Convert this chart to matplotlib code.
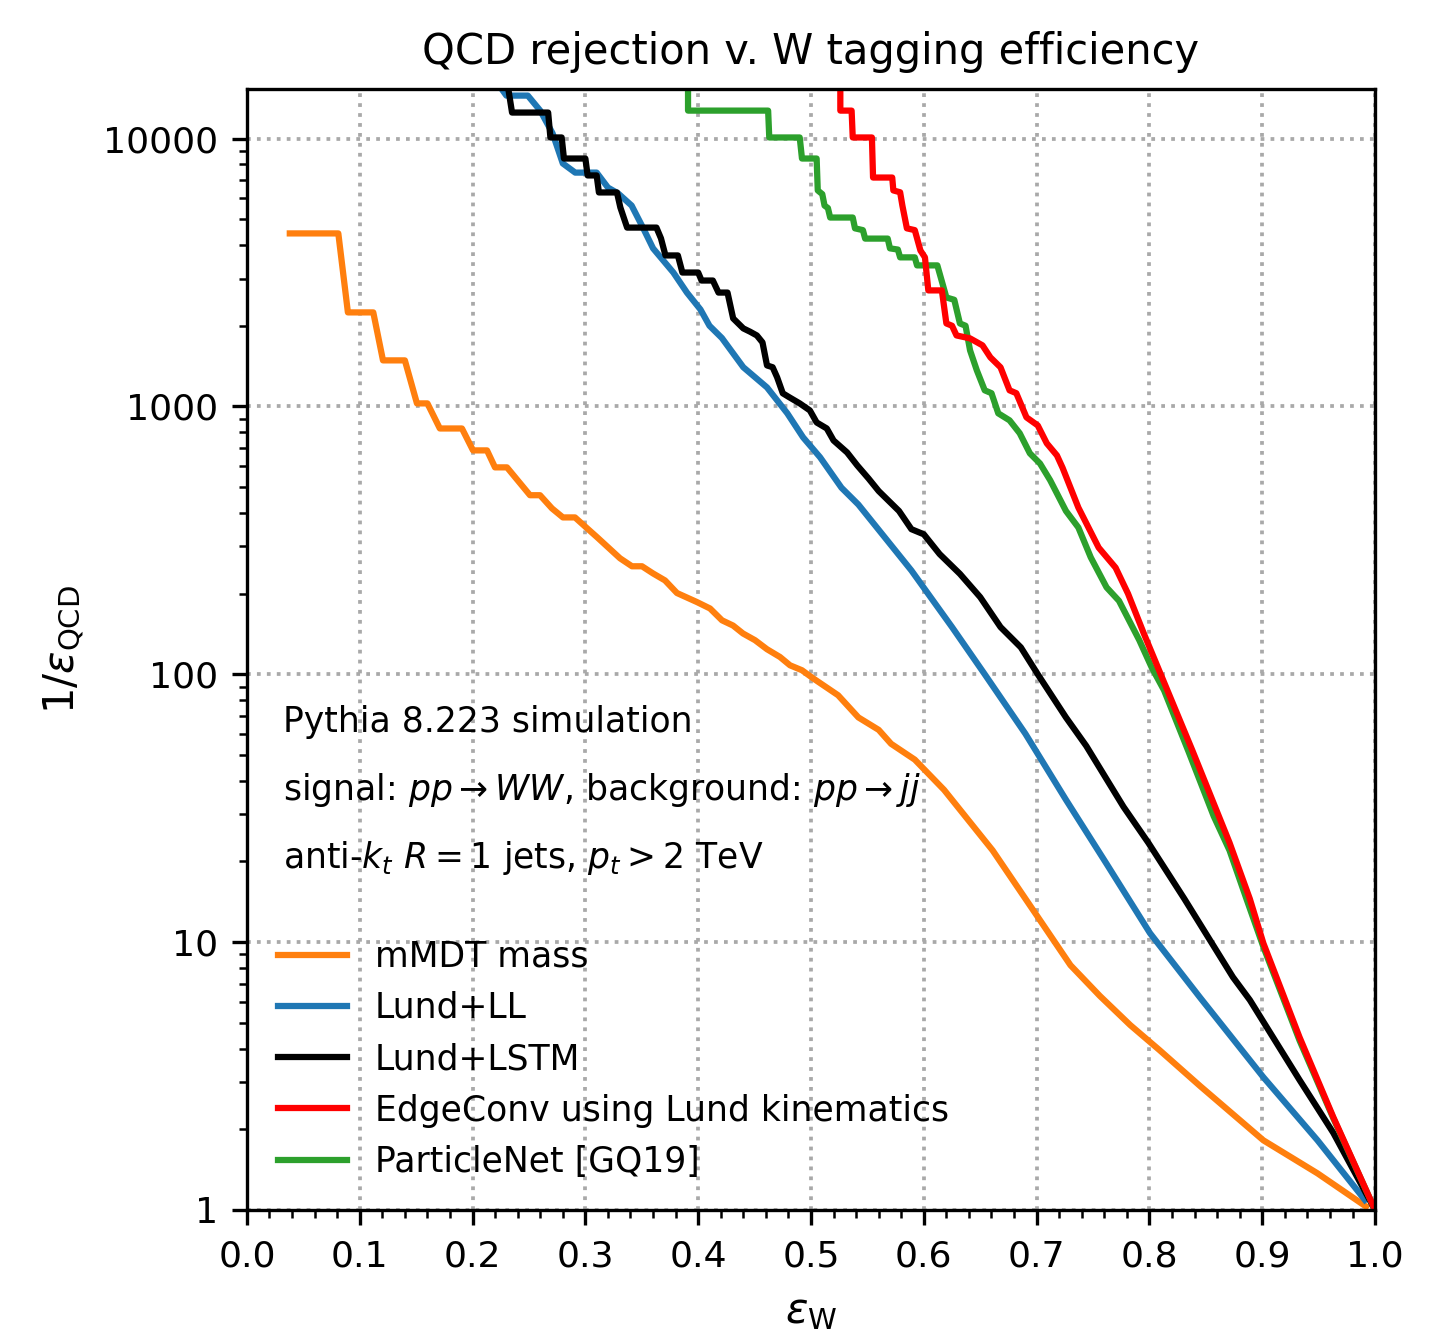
import numpy as np
import matplotlib
matplotlib.use("Agg")
import matplotlib.pyplot as plt
from matplotlib.ticker import MultipleLocator, LogLocator, FuncFormatter, NullFormatter

# ROC points: signal efficiency and inverse background efficiency
mmdt_eff = [0.038, 0.081, 0.0895, 0.112, 0.1206, 0.140, 0.1507, 0.160, 0.171, 0.1906,
            0.2004, 0.2128, 0.2199, 0.2305, 0.2509, 0.2598, 0.2704, 0.2801, 0.2908, 0.3014,
            0.3103, 0.3307, 0.3413, 0.3502, 0.3599, 0.3706, 0.3812, 0.3989, 0.4105, 0.4211,
            0.4309, 0.4397, 0.4504, 0.4610, 0.4725, 0.4814, 0.4920, 0.5018, 0.524, 0.542,
            0.560, 0.571, 0.592, 0.618, 0.639, 0.661, 0.700, 0.730, 0.756, 0.783,
            0.809, 0.845, 0.901, 0.949, 0.992]
mmdt_rej = [4423, 4423, 2243, 2243, 1485, 1485, 1026, 1026, 827, 827,
            685, 685, 592, 592, 466, 466, 416, 385, 385, 351,
            325, 271, 253, 253, 238, 224, 201, 186, 176, 159,
            152, 142, 134, 124, 116, 108, 103.5, 96.6, 83.5, 69,
            62, 55, 48, 37, 28.7, 22, 12.6, 8.2, 6.3, 4.9,
            3.95, 2.9, 1.82, 1.37, 1.03]

ll_eff = [0.218, 0.230, 0.249, 0.260, 0.271, 0.280, 0.291, 0.310, 0.320, 0.329,
          0.341, 0.351, 0.360, 0.378, 0.390, 0.402, 0.410, 0.421, 0.440, 0.461,
          0.479, 0.493, 0.508, 0.527, 0.542, 0.589, 0.625, 0.654, 0.690, 0.726,
          0.762, 0.8005, 0.845, 0.901, 0.949, 0.991]
ll_rej = [17000, 14460, 14460, 12710, 10440, 8070, 7460, 7460, 6560, 6240,
          5620, 4650, 3890, 3160, 2660, 2300, 2000, 1800, 1400, 1177,
          942, 766, 646, 497, 430, 244, 150, 100, 60, 34,
          19.6, 10.8, 6.2, 3.13, 1.82, 1.09]

lstm_eff = [0.230, 0.235, 0.267, 0.269, 0.279, 0.281, 0.300, 0.302, 0.310, 0.312,
            0.328, 0.331, 0.337, 0.363, 0.367, 0.371, 0.382, 0.386, 0.400, 0.403,
            0.413, 0.418, 0.426, 0.431, 0.440, 0.446, 0.452, 0.457, 0.461, 0.466,
            0.470, 0.475, 0.481, 0.490, 0.499, 0.505, 0.514, 0.520, 0.532, 0.541,
            0.551, 0.560, 0.578, 0.589, 0.600, 0.614, 0.632, 0.650, 0.668, 0.686,
            0.701, 0.726, 0.744, 0.777, 0.799, 0.831, 0.874, 0.889, 0.933, 0.963,
            1.0]
lstm_rej = [17000, 12500, 12500, 10090, 10090, 8420, 8420, 7280, 7280, 6290,
            6290, 5530, 4650, 4650, 4240, 3660, 3660, 3160, 3160, 2950,
            2950, 2660, 2660, 2130, 1955, 1900, 1840, 1733, 1422, 1400,
            1283, 1119, 1080, 1026, 966, 871, 827, 746, 673, 602,
            538, 483, 407, 348, 333, 281, 237, 194, 150, 126,
            100, 69, 54, 32, 23.5, 14.5, 7.4, 6.08, 3.06, 1.94,
            1.0]

edge_eff = [0.526, 0.526, 0.536, 0.537, 0.554, 0.555, 0.572, 0.573, 0.579, 0.581,
            0.585, 0.592, 0.597, 0.601, 0.604, 0.616, 0.620, 0.625, 0.629, 0.641,
            0.652, 0.659, 0.668, 0.676, 0.682, 0.691, 0.701, 0.709, 0.718, 0.723,
            0.737, 0.755, 0.770, 0.781, 0.795, 0.810, 0.838, 0.871, 0.889, 0.901,
            0.933, 0.963, 1.0]
edge_rej = [17000, 12710, 12710, 10090, 10090, 7150, 7150, 6400, 6300, 5620,
            4620, 4550, 3820, 3600, 2710, 2710, 2040, 2000, 1840, 1794,
            1690, 1524, 1399, 1148, 1120, 910, 849, 728, 656, 590,
            419, 297, 250, 200, 142, 100, 52, 23.5, 14.5, 9.9,
            4.42, 2.22, 1.0]

pnet_eff = [0.391, 0.391, 0.462, 0.463, 0.490, 0.492, 0.505, 0.506, 0.510, 0.512,
            0.515, 0.517, 0.537, 0.539, 0.546, 0.548, 0.568, 0.570, 0.577, 0.579,
            0.592, 0.594, 0.612, 0.617, 0.620, 0.627, 0.632, 0.637, 0.641, 0.647,
            0.654, 0.660, 0.666, 0.676, 0.685, 0.694, 0.703, 0.712, 0.726, 0.737,
            0.748, 0.762, 0.773, 0.791, 0.802, 0.813, 0.835, 0.857, 0.871, 0.886,
            0.901, 0.933, 0.963, 1.0]
pnet_rej = [17000, 12710, 12710, 10090, 10090, 8420, 8420, 6400, 6200, 5620,
            5500, 5070, 5070, 4620, 4550, 4230, 4230, 3890, 3850, 3600,
            3600, 3360, 3360, 2830, 2550, 2500, 2040, 2000, 1618, 1363,
            1148, 1120, 942, 887, 794, 668, 612, 530, 407, 353,
            273, 211, 188, 134, 106, 87, 51, 29.5, 22, 14.5,
            9.6, 4.3, 2.2, 1.0]

labels = ["mMDT mass", "Lund+LL", "Lund+LSTM",
          "EdgeConv using Lund kinematics", "ParticleNet [GQ19]"]

fig = plt.figure(figsize=(4.78, 4.47), dpi=300)
ax = fig.add_axes([0.1722, 0.0977, 0.7867, 0.8359])

l_mmdt, = ax.plot(mmdt_eff, mmdt_rej, color="#ff7f0e", lw=1.5)
l_ll, = ax.plot(ll_eff, ll_rej, color="#1f77b4", lw=1.5)
l_lstm, = ax.plot(lstm_eff, lstm_rej, color="black", lw=1.5)
l_pnet, = ax.plot(pnet_eff, pnet_rej, color="#2ca02c", lw=1.5)
l_edge, = ax.plot(edge_eff, edge_rej, color="red", lw=1.5)

ax.set_yscale("log")
ax.set_xlim(0, 1)
ax.set_ylim(1, 1.53e4)
ax.xaxis.set_major_locator(MultipleLocator(0.1))
ax.xaxis.set_minor_locator(MultipleLocator(0.02))
ax.yaxis.set_major_locator(LogLocator(base=10))
ax.yaxis.set_minor_locator(LogLocator(base=10, subs=np.arange(2, 10)))
ax.yaxis.set_major_formatter(FuncFormatter(lambda v, p: f"{v:g}"))
ax.yaxis.set_minor_formatter(NullFormatter())
ax.tick_params(which="both", direction="out", labelsize=8.7)
ax.grid(True, which="major", ls=":", color="darkgray", lw=0.9)

ax.set_title("QCD rejection v. W tagging efficiency", fontsize=10)
ax.set_xlabel(r"$\varepsilon_\mathrm{W}$", fontsize=10)
ax.set_ylabel(r"$1/\varepsilon_\mathrm{QCD}$", fontsize=10)

ax.text(0.032, 0.435, "Pythia 8.223 simulation", transform=ax.transAxes,
        fontsize=8.3, va="center")
ax.text(0.032, 0.375, r"signal: $pp \to WW$, background: $pp \to jj$",
        transform=ax.transAxes, fontsize=8.3, va="center")
ax.text(0.032, 0.314, r"anti-$k_t$ $R = 1$ jets, $p_t > 2$ TeV",
        transform=ax.transAxes, fontsize=8.3, va="center")

ax.legend([l_mmdt, l_ll, l_lstm, l_edge, l_pnet], labels,
          loc="lower left", frameon=False, fontsize=8.3)

fig.savefig("out.png", dpi=300)
